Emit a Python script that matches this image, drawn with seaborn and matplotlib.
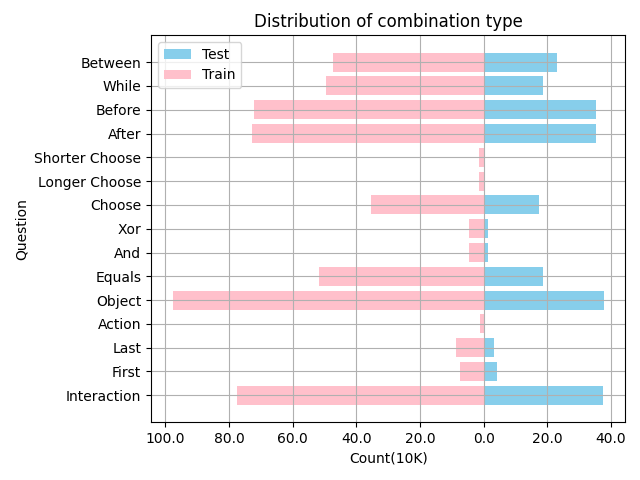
import seaborn as sns
import pandas as pd
import matplotlib.pyplot as plt
from matplotlib.ticker import FuncFormatter

# top to bottom, as shown on the chart
questions = ["Between", "While", "Before", "After", "Shorter Choose", "Longer Choose",
             "Choose", "Xor", "And", "Equals", "Object", "Action", "Last", "First",
             "Interaction"]
test_counts = [22.9, 18.5, 35.2, 35.2, 0.0, 0.0, 17.5, 1.5, 1.5, 18.8, 37.7, 0.0, 3.4, 4.3, 37.4]
train_counts = [47.3, 49.5, 72.2, 72.8, 1.4, 1.4, 35.4, 4.5, 4.5, 51.7, 97.7, 1.2, 8.6, 7.3, 77.5]

df = pd.DataFrame({"Question": questions,
                   "Test": test_counts,
                   "Train": [-v for v in train_counts]})

fig, ax = plt.subplots(figsize=(6.4, 4.8))
sns.barplot(data=df, x="Test", y="Question", color="skyblue", label="Test",
            orient="h", width=0.8, saturation=1, ax=ax)
sns.barplot(data=df, x="Train", y="Question", color="pink", label="Train",
            orient="h", width=0.8, saturation=1, ax=ax)

ax.set_ylim(len(questions) - 1 + 1.14, -1.14)
ax.set_xlim(-104.5, 44.5)
ax.xaxis.set_major_formatter(FuncFormatter(lambda v, p: "%.1f" % abs(v)))
ax.grid(True)
ax.set_xlabel("Count(10K)")
ax.set_ylabel("Question")
ax.set_title("Distribution of combination type")
ax.legend(loc="upper left")
plt.subplots_adjust(left=0.236, right=0.977, bottom=0.12, top=0.927)
plt.savefig("out.png", dpi=100)
